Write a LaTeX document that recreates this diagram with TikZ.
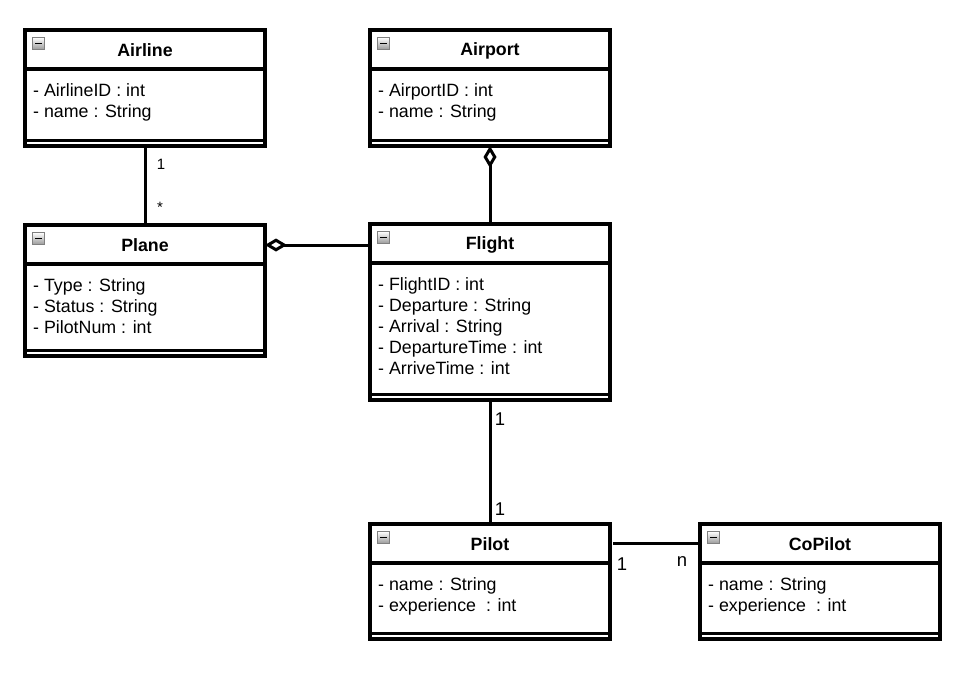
\documentclass[tikz,border=0pt]{standalone}
\usepackage{fontspec}
\setmainfont{Liberation Sans}
\usetikzlibrary{arrows.meta}
\tikzset{
  classbox/.style={draw=black, fill=white, line width=3.1pt, rectangle, minimum width=240pt, inner sep=0pt, outer sep=0pt},
  boxline/.style={draw=black, line width=3.1pt},
  titletext/.style={font=\fontsize{17.8}{21}\selectfont\bfseries, inner sep=0pt},
  attrtext/.style={font=\fontsize{17.8}{21}\selectfont, align=left, inner sep=0pt},
  minusicon/.style={draw=black!50, line width=0.9pt, top color=white, bottom color=black!40, minimum size=12pt, inner sep=0pt,
    path picture={\draw[black, line width=1.8pt] ([xshift=-3.5pt]path picture bounding box.center) -- ([xshift=3.5pt]path picture bounding box.center);}},
  conn/.style={draw=black, line width=3pt},
  aggr/.style={conn, {Diamond[open, length=22pt, width=13pt, line width=3pt]}-},
  multbig/.style={font=\fontsize{18.5}{21}\selectfont, inner sep=0pt},
  multsmall/.style={font=\fontsize{15}{17}\selectfont, inner sep=0pt},
}
\newcommand{\umlclass}[6]{%
  \node[classbox, minimum height=#4pt, anchor=north west] (#1) at (#2,#3) {};
  \draw[boxline] ([yshift=-39pt]#1.north west) -- ([yshift=-39pt]#1.north east);
  \draw[boxline] ([yshift=5.5pt]#1.south west) -- ([yshift=5.5pt]#1.south east);
  \node[minusicon] (#1-i) at ([xshift=13.5pt,yshift=-13.5pt]#1.north west) {};
  \node[titletext] (#1-t) at ([yshift=-20.5pt]#1.north) {#5};
  \node[attrtext, anchor=north west] (#1-a) at ([xshift=8pt,yshift=-51.3pt]#1.north west) {\strut #6};
}
\begin{document}
\begin{tikzpicture}[x=1pt, y=-1pt]
  \useasboundingbox[fill=white] (0,0) rectangle (976,685);

  \umlclass{airline}{25}{30}{116}{Airline}{- AirlineID : int\\- name : String}
  \umlclass{airport}{370}{30}{116}{Airport}{- AirportID : int\\- name : String}
  \umlclass{plane}{25}{225}{131}{Plane}{- Type : String\\- Status : String\\- PilotNum : int}
  \umlclass{flight}{370}{224}{176}{Flight}{- FlightID : int\\- Departure : String\\- Arrival : String\\- DepartureTime : int\\- ArriveTime : int}
  \umlclass{pilot}{370}{524}{115}{Pilot}{- name : String\\- experience~~: int}
  \umlclass{copilot}{700}{524}{115}{CoPilot}{- name : String\\- experience~~: int}

  % Airline -- Plane
  \draw[conn] (airline.south) -- (plane.north);
  \node[multsmall] (m1) at (161,164) {1};
  \node[multsmall] (m2) at (160,207) {*};

  % Plane <>-- Flight
  \draw[aggr] ([yshift=-20pt]plane.north east) -- ([yshift=-20pt]plane.north east -| flight.west);

  % Airport <>-- Flight
  \draw[aggr] (airport.south) -- (flight.north);

  % Flight -- Pilot
  \draw[conn] (flight.south) -- (pilot.north);
  \node[multbig] (m3) at (500,419) {1};
  \node[multbig] (m4) at (500,509) {1};

  % Pilot -- CoPilot
  \draw[conn, shorten <=3pt] ([yshift=-19pt]pilot.north east) -- ([yshift=-19pt]pilot.north east -| copilot.west);
  \node[multbig] (m5) at (622,564) {1};
  \node[multbig] (m6) at (682,562) {n};
\end{tikzpicture}
\end{document}
